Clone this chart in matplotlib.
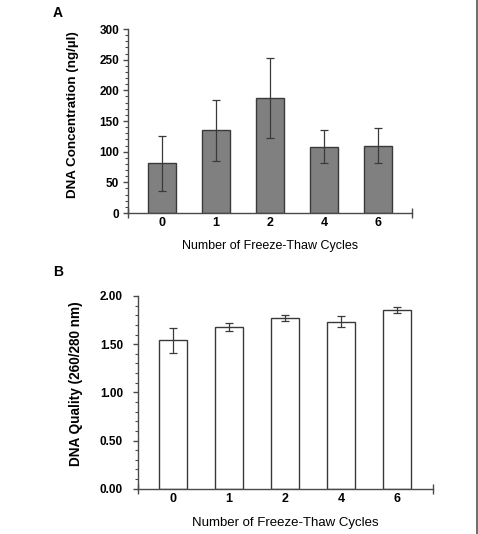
import matplotlib
matplotlib.use("Agg")
import matplotlib.pyplot as plt
from matplotlib.ticker import MultipleLocator, FixedLocator, FormatStrFormatter
from matplotlib.lines import Line2D

plt.rcParams['font.family'] = ['Liberation Sans', 'DejaVu Sans']

cycles = ["0", "1", "2", "4", "6"]
conc = [81, 135, 187, 108, 110]
conc_err = [45, 50, 65, 27, 28]
quality = [1.54, 1.675, 1.775, 1.735, 1.858]
quality_err = [0.13, 0.04, 0.03, 0.06, 0.03]

W, H = 478, 534
fig = plt.figure(figsize=(W / 100, H / 100), dpi=100)
fig.patch.set_facecolor('white')

edge = '#3a3a3a'
axc = '#4a4a4a'

def style(ax, n, ymax, major, minor, fmt, ypad):
    x = list(range(n))
    ax.set_xlim(-0.63, n - 1 + 0.63)
    ax.set_ylim(0, ymax)
    for s in ['top', 'right']:
        ax.spines[s].set_visible(False)
    for s in ['left', 'bottom']:
        ax.spines[s].set_color(axc)
        ax.spines[s].set_linewidth(1.0)
    ax.yaxis.set_major_locator(MultipleLocator(major))
    ax.yaxis.set_minor_locator(MultipleLocator(minor))
    ax.yaxis.set_major_formatter(fmt)
    ax.tick_params(axis='y', which='major', direction='out', length=3.5, width=1,
                   color=axc, labelsize=8.5, pad=ypad)
    ax.tick_params(axis='y', which='minor', direction='out', length=2.5, width=0.8, color=axc)
    ax.set_xticks(x)
    ax.set_xticklabels(cycles, fontweight='bold')
    ax.tick_params(axis='x', which='major', length=0, labelsize=9, pad=3)
    ax.xaxis.set_minor_locator(FixedLocator([-0.63, n - 1 + 0.63]))
    ax.tick_params(axis='x', which='minor', direction='inout', length=7, width=1, color=axc)
    for lab in ax.get_yticklabels():
        lab.set_fontweight('bold')

# Panel A
axA = fig.add_axes([128.3 / W, 1 - 213 / H, (412 - 128.3) / W, (213 - 29) / H])
xA = list(range(len(cycles)))
axA.bar(xA, conc, width=0.52, color='#808080', edgecolor=edge, linewidth=1.0, zorder=2)
axA.errorbar(xA, conc, yerr=conc_err, fmt='none', ecolor=edge, elinewidth=0.9,
             capsize=2.6, capthick=0.9, zorder=3)
style(axA, len(cycles), 300, 50, 10, FormatStrFormatter('%d'), 3)
axA.set_ylabel('DNA Concentration (ng/µl)', fontsize=9.6, fontweight='bold', va='center')
axA.yaxis.set_label_coords(-0.195, 0.535)
axA.set_xlabel('Number of Freeze-Thaw Cycles', fontsize=9, va='center')
axA.xaxis.set_label_coords(0.5, -0.179)
fig.text(53 / W, 1 - 13 / H, 'A', fontsize=10, fontweight='bold', va='center', ha='left')

# Panel B
axB = fig.add_axes([137.7 / W, 1 - 488.7 / H, (432.7 - 137.7) / W, (488.7 - 296) / H])
xB = list(range(len(cycles)))
axB.bar(xB, quality, width=0.5, color='white', edgecolor=edge, linewidth=1.0, zorder=2)
axB.errorbar(xB, quality, yerr=quality_err, fmt='none', ecolor=edge, elinewidth=0.9,
             capsize=2.6, capthick=0.9, zorder=3)
style(axB, len(cycles), 2.0, 0.5, 0.1, FormatStrFormatter('%.2f'), 7)
axB.set_ylabel('DNA Quality (260/280 nm)', fontsize=9.8, fontweight='bold', va='center')
axB.yaxis.set_label_coords(-0.21, 0.543)
axB.set_xlabel('Number of Freeze-Thaw Cycles', fontsize=9.5, va='center')
axB.xaxis.set_label_coords(0.5, -0.18)
fig.text(53 / W, 1 - 272 / H, 'B', fontsize=10, fontweight='bold', va='center', ha='left')

# right border line
fig.add_artist(Line2D([476.7 / W, 476.7 / W], [0, 1], color='#555555', linewidth=1.2))

fig.savefig('out.png', dpi=100)
